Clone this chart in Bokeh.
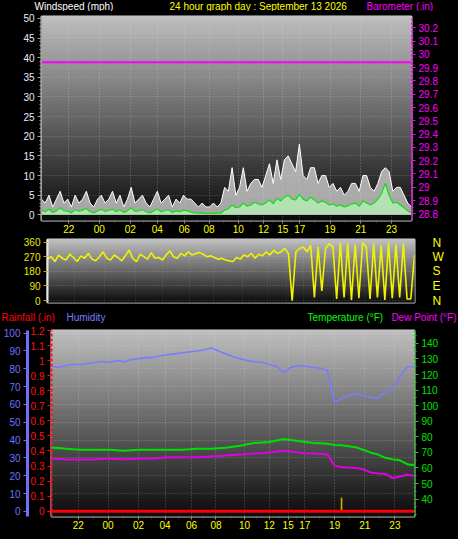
import numpy as np
from bokeh.plotting import figure
from bokeh.models import LinearAxis, Range1d, FixedTicker, Label, Grid
from bokeh.layouts import column
from bokeh.embed import file_html
from bokeh.resources import INLINE

FONT = "Liberation Sans"

# ---------------- data ----------------
hour_labels = ["22", "00", "02", "04", "06", "08", "10", "12", "15", "17", "19", "21", "23"]
hour_pos = [7.4, 15.6, 24.0, 31.3, 38.6, 45.3, 53.2, 60.0, 65.2, 69.8, 78.0, 86.3, 94.6]

wind_ticks = [0, 5, 10, 15, 20, 25, 30, 35, 40, 45, 50]
baro_ticks = [28.8, 28.9, 29.0, 29.1, 29.2, 29.3, 29.4, 29.5, 29.6, 29.7, 29.8, 29.9, 30.0, 30.1, 30.2]
baro_tick_labels = ["28.8", "28.9", "29", "29.1", "29.2", "29.3", "29.4", "29.5", "29.6",
                    "29.7", "29.8", "29.9", "30", "30.1", "30.2"]
dir_ticks = [0, 90, 180, 270, 360]
compass_labels = ["N", "E", "S", "W", "N"]
hum_ticks = [0, 10, 20, 30, 40, 50, 60, 70, 80, 90, 100]
rain_ticks = [0.0, 0.1, 0.2, 0.3, 0.4, 0.5, 0.6, 0.7, 0.8, 0.9, 1.0, 1.1, 1.2]
rain_tick_labels = ["0", "0.1", "0.2", "0.3", "0.4", "0.5", "0.6", "0.7", "0.8", "0.9", "1", "1.1", "1.2"]
temp_ticks = [40, 50, 60, 70, 80, 90, 100, 110, 120, 130, 140]

# wind speed (mph), 100 readings across the 24 h
wind_gust = [4, 3, 5, 2, 4, 6, 3, 4, 2, 5,
             3, 4, 6, 3, 2, 4, 5, 3, 4, 6,
             3, 5, 2, 4, 7, 3, 4, 5, 3, 2,
             4, 6, 3, 4, 5, 2, 4, 3, 5, 4,
             4, 3, 2, 3, 2, 2, 3, 2, 3, 7,
             6, 12, 5, 7, 12, 6, 8, 9, 9, 7,
             10, 13, 8, 14, 9, 14, 15, 13, 11, 18,
             10, 9, 12, 12, 8, 10, 10, 7, 8, 6,
             7, 5, 6, 8, 8, 6, 10, 10, 7, 6,
             8, 11, 12, 11, 6, 7, 7, 5, 3, 2]
wind_avg = [1.2, 0.8, 1.5, 0.6, 1.0, 1.8, 1.1, 0.9, 0.5, 1.3,
            0.9, 1.2, 1.6, 0.8, 0.5, 1.0, 1.4, 0.9, 1.1, 1.5,
            0.8, 1.3, 0.6, 1.0, 1.8, 0.9, 1.0, 1.3, 0.8, 0.5,
            1.0, 1.5, 0.8, 1.1, 1.3, 0.6, 1.0, 0.8, 1.2, 1.0,
            0.7, 0.5, 0.4, 0.5, 0.3, 0.4, 0.3, 0.5, 0.4, 1.2,
            1.5, 2.5, 1.8, 2.0, 3.0, 2.2, 2.5, 3.2, 2.8, 2.5,
            3.0, 3.8, 2.8, 4.2, 3.5, 4.5, 5.0, 4.0, 3.8, 5.2,
            4.0, 3.5, 4.5, 3.8, 3.0, 3.5, 3.2, 2.5, 2.8, 2.2,
            2.5, 2.0, 2.3, 2.8, 3.0, 2.2, 3.5, 3.0, 2.5, 3.0,
            4.0, 5.5, 8.0, 5.0, 3.0, 3.2, 2.5, 1.8, 1.0, 0.5]
# wind direction (degrees)
wind_dir = [255, 270, 240, 280, 260, 250, 285, 265, 240, 275,
            260, 290, 255, 245, 270, 300, 260, 250, 280, 265,
            245, 275, 310, 260, 240, 285, 270, 255, 295, 260,
            265, 250, 280, 305, 270, 260, 290, 275, 300, 280,
            290, 295, 285, 270, 275, 265, 255, 260, 250, 245,
            240, 265, 255, 280, 270, 290, 260, 285, 275, 300,
            280, 310, 290, 300, 320, 290, 0, 300, 320, 330,
            300, 340, 20, 330, 60, 320, 350, 330, 10, 355,
            20, 350, 5, 345, 15, 355, 330, 10, 350, 20,
            340, 5, 355, 15, 345, 20, 350, 10, 10, 280]
# barometer (in)
baro_in = [29.94, 29.94, 29.94, 29.94, 29.94, 29.94, 29.94, 29.94, 29.94, 29.94, 29.94]

# humidity (%), temperature and dew point (F): 51 readings
humidity = [81.4, 80.8, 81.9, 82.4, 82.4, 83.0, 83.5, 84.1, 83.5, 84.6,
            84.0, 85.2, 85.7, 86.3, 86.3, 87.3, 87.9, 88.4, 89.0, 89.5,
            90.0, 90.6, 91.7, 90.0, 88.4, 86.8, 85.7, 84.6, 84.0, 83.5,
            82.4, 81.4, 78.0, 80.8, 81.9, 81.4, 80.8, 80.3, 79.2, 61.2,
            63.4, 65.0, 66.1, 65.0, 64.0, 63.4, 67.0, 69.0, 76.0, 81.0, 81.4]
temperature = [73.0, 72.8, 72.4, 72.0, 71.7, 71.7, 71.7, 71.7, 71.7, 71.4,
               71.1, 71.4, 71.7, 71.7, 71.7, 71.7, 71.7, 71.7, 71.7, 72.0,
               72.4, 72.4, 72.4, 72.7, 73.0, 73.6, 74.2, 75.2, 76.1, 76.4,
               76.7, 77.6, 78.6, 78.0, 77.3, 76.7, 76.1, 75.8, 75.5, 74.8,
               74.5, 74.0, 73.2, 71.5, 69.8, 68.6, 66.5, 65.5, 64.9, 62.4, 61.8]
dew_point = [66.1, 65.8, 65.5, 65.5, 65.5, 65.5, 65.5, 65.8, 66.1, 65.8,
             65.5, 65.8, 66.1, 66.1, 66.1, 66.4, 66.8, 66.8, 66.8, 66.8,
             66.8, 67.1, 67.4, 67.7, 68.0, 68.3, 68.6, 68.9, 69.2, 69.5,
             69.9, 70.5, 71.1, 70.5, 69.9, 69.5, 69.2, 68.9, 68.6, 61.5,
             60.5, 60.2, 59.9, 59.0, 57.0, 56.5, 56.2, 53.5, 54.5, 55.6, 54.9]
# rainfall (in)
rain_in = [0.0, 0.0, 0.0, 0.0, 0.0, 0.0, 0.0, 0.0, 0.0, 0.0, 0.0]
rain_event_pos = [79.9]
rain_event_val = [0.09]

# header texts
top_titles = ["Windspeed (mph)", "24 hour graph day : September 13 2026", "Barometer (.in)"]
top_colors = ["#ffffff", "#ffff00", "#ff00ff"]
bottom_titles = ["Rainfall (.in)", "Humidity", "Temperature (°F)", "Dew Point (°F)"]
bottom_colors = ["#ff0000", "#7b7bff", "#00ff00", "#ff00ff"]

# sample positions along the day (0..100 = chart width)
x_wind = np.linspace(0, 100, len(wind_gust))
x_dir = np.linspace(0, 100, len(wind_dir))
x_baro = np.linspace(0, 100, len(baro_in))
x_th = np.linspace(0, 100, len(humidity))
x_rain = np.linspace(0, 100, len(rain_in))

minor_hours = [(a + b) / 2 for a, b in zip(hour_pos[:-1], hour_pos[1:])]

W = 458


def add_gradient(p, yr, top=190, bottom=12, n=70):
    """vertical grey background gradient, light at top, dark at bottom"""
    edges = np.linspace(yr.start, yr.end, n + 1)
    grey = np.linspace(bottom, top, n).astype(int)
    cols = ["#%02x%02x%02x" % (g, g, g) for g in grey]
    p.quad(left=0, right=100, bottom=edges[:-1], top=edges[1:], fill_color=cols,
           line_color=cols, line_width=1, level="image")


def base_fig(height, yr, bl, br, bt, bb):
    p = figure(width=W, height=height, output_backend="svg", toolbar_location=None,
               x_range=Range1d(0, 100), y_range=yr,
               min_border_left=bl, min_border_right=br, min_border_top=bt, min_border_bottom=bb,
               background_fill_color="black", border_fill_color="black",
               outline_line_color="#d0d0d0", outline_line_width=2, frame_align=False)
    add_gradient(p, yr)
    p.xgrid.ticker = FixedTicker(ticks=hour_pos)
    p.xgrid.grid_line_color = "#e0e0e0"
    p.xgrid.grid_line_alpha = 0.35
    p.xgrid.grid_line_dash = "1 2"
    return p


def header_fig(height, xs, y, texts, colors, aligns):
    h = figure(width=W, height=height, output_backend="svg", toolbar_location=None,
               x_range=Range1d(0, W), y_range=Range1d(0, height),
               min_border=0, background_fill_color="black", border_fill_color="black",
               outline_line_color=None, frame_align=False)
    h.axis.visible = False
    h.grid.visible = False
    for x, t, c, a in zip(xs, texts, colors, aligns):
        h.add_layout(Label(x=x, y=y, text=t, text_color=c, text_font=FONT,
                           text_font_size="10px", text_align=a, text_baseline="middle"))
    return h


def style_xaxis(p):
    ax = p.xaxis[0]
    ax.ticker = FixedTicker(ticks=hour_pos, minor_ticks=minor_hours)
    ax.major_label_overrides = dict(zip(hour_pos, hour_labels))
    ax.major_label_text_color = "#ffff00"
    ax.major_label_text_font = FONT
    ax.major_label_text_font_size = "10px"
    ax.major_label_standoff = 1
    ax.major_tick_out = 3
    ax.major_tick_in = 0
    ax.minor_tick_out = 2
    ax.minor_tick_in = 0
    ax.major_tick_line_color = "#909090"
    ax.minor_tick_line_color = "#707070"
    ax.axis_line_color = None


def style_y(ax, color, tick_color=None, line_color=None, dash=None, size="10px"):
    ax.major_label_text_color = color
    ax.major_label_text_font = FONT
    ax.major_label_text_font_size = size
    ax.major_label_standoff = 3
    ax.major_tick_out = 4
    ax.major_tick_in = 0
    ax.minor_tick_out = 2
    ax.minor_tick_in = 0
    ax.major_tick_line_color = tick_color or color
    ax.minor_tick_line_color = tick_color or color
    ax.axis_line_color = line_color or color
    if dash:
        ax.axis_line_dash = dash


# ---------------- header 1 ----------------
h1 = header_fig(11, [34, 169, 366], 6.3, top_titles, top_colors, ["left", "left", "left"])

# ---------------- panel 1 : wind + barometer ----------------
p1 = base_fig(224, Range1d(-1.44, 50.48), 41, 47, 5, 15)
p1.extra_y_ranges = {"baro": Range1d(28.75, 30.285)}
p1.ygrid.ticker = FixedTicker(ticks=wind_ticks)
p1.ygrid.grid_line_color = "#e0e0e0"
p1.ygrid.grid_line_alpha = 0.3
p1.ygrid.grid_line_dash = "1 2"

p1.varea(x=x_wind, y1=0, y2=wind_gust, fill_color="#d8d8d8", fill_alpha=0.75)
p1.line(x_wind, wind_gust, line_color="#ffffff", line_width=1)
p1.varea(x=x_wind, y1=0, y2=wind_avg, fill_color="#b8f0b8", fill_alpha=0.8)
p1.line(x_wind, wind_avg, line_color="#10e010", line_width=1.2)
p1.line(x_baro, baro_in, y_range_name="baro", line_color="#ff00ff", line_width=2)

ly = p1.yaxis[0]
ly.ticker = FixedTicker(ticks=wind_ticks, minor_ticks=list(range(0, 51)))
style_y(ly, "#e6ecff", tick_color="#a0a0a0", line_color="#a0a0a0")

baro_axis = LinearAxis(y_range_name="baro",
                       ticker=FixedTicker(ticks=baro_ticks,
                                          minor_ticks=[28.8 + 0.025 * i for i in range(57)]),
                       major_label_overrides=dict(zip(baro_ticks, baro_tick_labels)))
style_y(baro_axis, "#ff00ff", dash="2 2")
p1.add_layout(baro_axis, "right")
style_xaxis(p1)

# ---------------- panel 2 : wind direction ----------------
p2 = base_fig(73, Range1d(-11.4, 375.4), 47, 44, 4, 6)
p2.ygrid.ticker = FixedTicker(ticks=dir_ticks)
p2.ygrid.grid_line_color = "#e0e0e0"
p2.ygrid.grid_line_alpha = 0.3
p2.ygrid.grid_line_dash = "1 2"
p2.xgrid.grid_line_alpha = 0.15
p2.xaxis.visible = False
p2.line(x_dir, wind_dir, line_color="#f2f200", line_width=1.6)

dy = p2.yaxis[0]
dy.ticker = FixedTicker(ticks=dir_ticks)
style_y(dy, "#e8e800", tick_color="#b0b000", line_color="#e8e8e8")
dy.axis_line_width = 2
compass = LinearAxis(ticker=FixedTicker(ticks=dir_ticks),
                     major_label_overrides=dict(zip(dir_ticks, compass_labels)))
compass.major_label_text_color = "#ffff00"
compass.major_label_text_font = FONT
compass.major_label_text_font_size = "12px"
compass.major_label_standoff = 12
compass.axis_line_color = None
compass.major_tick_line_color = None
compass.minor_tick_line_color = None
p2.add_layout(compass, "right")

# ---------------- header 3 ----------------
h3 = header_fig(16, [1, 66, 307, 456], 6.6, bottom_titles, bottom_colors,
                ["left", "left", "left", "right"])

# ---------------- panel 3 : rain / humidity / temperature ----------------
p3 = base_fig(215, Range1d(-0.035, 1.2), 50, 44, 6, 23)
p3.extra_y_ranges = {"hum": Range1d(-2.9, 101.5), "temp": Range1d(28.8, 148.3)}
p3.ygrid.visible = False
p3.add_layout(Grid(dimension=1, ticker=FixedTicker(ticks=hum_ticks), y_range_name="hum",
                   grid_line_color="#e0e0e0", grid_line_alpha=0.3, grid_line_dash="1 2"))

p3.line(x_th, humidity, y_range_name="hum", line_color="#7b7bff", line_width=1.6)
p3.line(x_th, temperature, y_range_name="temp", line_color="#00e000", line_width=2)
p3.line(x_th, dew_point, y_range_name="temp", line_color="#e000e0", line_width=2)
p3.vbar(x=rain_event_pos, top=rain_event_val, bottom=0, width=0.45, fill_color="#c8b400",
        line_color=None)
p3.line(x_rain, rain_in, line_color="#ff0000", line_width=3)

ry = p3.yaxis[0]
ry.ticker = FixedTicker(ticks=rain_ticks)
ry.major_label_overrides = dict(zip(rain_ticks, rain_tick_labels))
style_y(ry, "#ff1010", dash="3 2")
ry.axis_line_width = 2

hum_axis = LinearAxis(y_range_name="hum", ticker=FixedTicker(ticks=hum_ticks))
style_y(hum_axis, "#7070ff")
hum_axis.axis_line_width = 3
p3.add_layout(hum_axis, "left")

temp_axis = LinearAxis(y_range_name="temp",
                       ticker=FixedTicker(ticks=temp_ticks, minor_ticks=list(range(30, 150, 5))))
style_y(temp_axis, "#00e000", dash="2 2")
p3.add_layout(temp_axis, "right")
style_xaxis(p3)

layout = column(h1, p1, p2, h3, p3, spacing=0)
layout.styles = {"background-color": "black"}

open("out.html", "w").write(file_html(layout, INLINE))
